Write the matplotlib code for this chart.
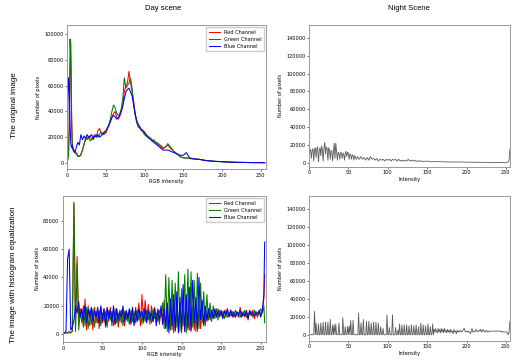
import numpy as np
import matplotlib
matplotlib.use("Agg")
import matplotlib.pyplot as plt

# day scene, original image (values in thousands of pixels)
day_x = [0, 1, 2, 3, 4, 5, 6, 7, 8, 9, 10,
         12, 14, 16, 18, 20, 22, 24, 26, 28, 30, 32, 34, 36, 38, 40, 42, 44, 46, 48, 50,
         52, 54, 56, 58, 60, 62, 64, 66, 68, 70, 72, 74, 76, 78, 80, 82, 84, 86, 88, 90,
         92, 94, 96, 98, 100, 102, 104, 106, 108, 110, 112, 114, 116, 118, 120, 122, 124, 126, 128, 130,
         134, 138, 142, 146, 150, 154, 158, 162, 166, 170, 174, 178,
         185, 190, 200, 210, 220, 230, 240, 250, 255]
day_red = [2, 3, 8, 30, 70, 93, 40, 14, 11, 10, 9,
           8, 6, 5, 7, 10, 14, 18, 20, 19, 21, 18, 20, 22, 21, 25, 27, 23, 22, 24, 23,
           26, 29, 33, 36, 38, 40, 36, 34, 36, 40, 45, 55, 60, 62, 71, 62, 55, 48, 38, 32,
           28, 27, 26, 25, 23, 22, 21, 20, 19, 17, 18, 16, 15, 14, 13, 12, 11, 12, 13, 14,
           11, 9, 7, 5, 4, 4, 3.5, 3.3, 3, 3, 2.5, 2,
           1.6, 1.3, 1, 0.7, 0.5, 0.4, 0.3, 0.3, 0.2]
day_green = [1, 2, 6, 25, 96, 80, 30, 12, 10, 9, 8,
             7, 5, 5, 6, 10, 15, 19, 18, 20, 17, 19, 18, 21, 22, 20, 22, 24, 23, 22, 24,
             27, 30, 34, 40, 45, 43, 39, 37, 38, 42, 50, 66, 58, 60, 62, 66, 58, 46, 37, 31,
             28, 27, 25, 24, 22, 21, 20, 20, 19, 18, 17, 16, 16, 15, 14, 13, 12, 12, 13, 15,
             12, 9, 7, 5, 4, 3.8, 3.5, 3.2, 3, 2.8, 2.5, 2,
             1.6, 1.3, 1, 0.7, 0.5, 0.4, 0.3, 0.3, 0.2]
day_blue = [3, 40, 66, 60, 30, 15, 12, 14, 10, 9, 8,
            12, 16, 14, 22, 18, 21, 19, 22, 20, 21, 22, 19, 21, 20, 22, 20, 21, 22, 24, 25,
            27, 29, 32, 35, 37, 36, 34, 35, 37, 40, 44, 50, 55, 57, 58, 55, 52, 45, 38, 33,
            30, 28, 26, 25, 24, 22, 20, 19, 18, 17, 16, 15, 14, 13, 12, 11, 10, 10, 10, 10,
            9, 8, 7, 6, 6, 8, 4, 3.5, 3, 2.8, 2.5, 2,
            1.6, 1.3, 1, 0.7, 0.5, 0.4, 0.3, 0.3, 0.2]

# day scene, equalized image (every 2nd bin, then 255; thousands)
eq_x = list(range(0, 256, 2)) + [255]
eq_red = [1, 1, 1, 1, 2, 1, 2, 93, 3, 55, 10, 18, 14, 5, 25, 3, 20, 6, 18, 3,
          19, 8, 17, 4, 19, 8, 18, 5, 18, 9, 19, 6, 17, 7, 18, 5, 17, 8, 18, 6,
          16, 9, 17, 7, 18, 8, 19, 10, 22, 6, 28, 8, 24, 10, 21, 7, 20, 9, 19, 10,
          18, 7, 17, 12, 24, 5, 22, 4, 20, 3, 21, 2, 20, 3, 22, 1, 19, 2, 18, 3,
          20, 2, 18, 3, 20, 2, 17, 4, 18, 6, 17, 9, 17, 10, 16, 12, 17, 13, 18, 12,
          15, 13, 17, 12, 16, 13, 17, 12, 16, 13, 15, 12, 19, 13, 16, 12, 17, 10, 16, 13,
          17, 11, 15, 12, 16, 14, 17, 25, 42]
eq_green = [1, 1, 1, 1, 1, 1, 2, 92, 2, 50, 3, 16, 8, 20, 6, 19, 4, 17, 7, 18,
            5, 16, 8, 17, 6, 15, 9, 16, 5, 17, 10, 16, 6, 18, 8, 15, 9, 17, 6, 16,
            10, 15, 7, 17, 9, 16, 8, 17, 10, 16, 7, 18, 9, 17, 10, 16, 8, 18, 11, 15,
            9, 17, 12, 22, 4, 42, 2, 40, 3, 38, 1, 36, 5, 44, 2, 32, 6, 42, 1, 46,
            3, 44, 5, 38, 2, 43, 4, 36, 8, 30, 6, 28, 10, 22, 9, 20, 11, 18, 10, 17,
            13, 16, 11, 17, 12, 15, 13, 16, 12, 17, 13, 15, 12, 16, 13, 17, 12, 15, 14, 16,
            12, 17, 13, 15, 14, 18, 15, 20, 8]
eq_blue = [1, 1, 2, 53, 60, 3, 5, 10, 20, 15, 23, 12, 18, 10, 20, 8, 18, 12, 19, 9,
           17, 12, 19, 8, 20, 10, 18, 6, 19, 11, 17, 9, 20, 7, 18, 10, 16, 12, 20, 9,
           17, 11, 18, 8, 19, 6, 17, 9, 18, 12, 16, 10, 18, 8, 17, 11, 15, 9, 18, 6,
           17, 10, 20, 7, 18, 4, 22, 1, 25, 6, 28, 3, 30, 1, 26, 4, 35, 2, 28, 5,
           33, 3, 38, 8, 26, 4, 40, 10, 24, 7, 20, 10, 18, 12, 17, 11, 18, 12, 16, 13,
           17, 11, 16, 14, 18, 12, 17, 13, 15, 12, 16, 14, 17, 12, 15, 13, 16, 11, 17, 14,
           15, 13, 16, 14, 17, 12, 16, 28, 65]

# night scene, original image (thousands)
night_x = list(range(0, 61)) + list(range(62, 146, 2)) + [150, 155, 160, 170, 180, 190, 200,
                                                          210, 220, 230, 240, 250, 253, 254, 255]
night_y = [20, 13, 15, 5, 14, 16, 2, 15, 17, 6, 16, 18, 1, 13, 17, 8, 19, 14, 2, 17,
           23, 10, 18, 16, 3, 17, 15, 4, 14, 13, 2, 12, 22, 5, 22, 13, 3, 12, 11, 4,
           11, 12, 5, 10, 11, 3, 10, 13, 7, 12, 11, 4, 10, 9, 4, 9, 8, 3, 8, 7, 4,
           7, 4, 7, 4, 6, 3, 6, 3, 7, 4, 5, 3, 5, 2, 4, 3, 4, 2, 4, 3,
           4, 2, 4, 3, 4, 2, 4, 2, 3, 2, 3, 2, 4, 2, 3, 2, 3, 1.5, 2.5, 1.5, 2.5,
           1.5, 2, 1.2, 1.5, 1.2, 1, 1, 0.8, 0.7, 0.6, 0.5, 0.5, 0.5, 1, 3, 15]

# night scene, equalized image: isolated peaks below 160, then every bin
night_eq_peak_x = [7, 9, 12, 15, 18, 21, 24, 27, 30, 32, 34, 38, 43, 46, 49, 51, 53, 56,
                   63, 66, 69, 73, 76, 79, 82, 85, 88, 91, 94, 99, 102, 106, 110, 113, 115,
                   118, 121, 124, 127, 130, 133, 136, 139, 142, 145, 148, 151, 154, 157, 159]
night_eq_peak_y = [26, 13, 12, 13, 14, 14, 14, 17, 11, 11, 12, 13, 19, 9, 9, 10, 16, 16,
                   24, 13, 17, 15, 15, 13, 14, 14, 13, 9, 7, 22, 8, 22, 8, 5, 12,
                   11, 11, 11, 10, 11, 10, 11, 9, 13, 11, 10, 12, 9, 12, 6]
night_eq_tail = [3, 7, 3, 2, 7, 3, 6, 2, 7, 3, 6, 2, 7, 3, 5, 2, 6, 3, 5, 2,
                 6, 3, 4, 1, 6, 3, 4, 1, 5, 3, 4, 3, 5, 4, 3, 4, 6, 7, 4, 3,
                 4, 3, 4, 3, 3, 1, 4, 7, 3, 4, 3, 4, 6, 4, 3, 4, 5, 4, 6, 3,
                 4, 6, 4, 3, 4, 5, 3, 4, 4, 3, 4, 4, 4, 4, 4, 4, 4, 4, 4, 4,
                 4, 4, 4, 4, 3, 4, 3, 3, 3, 3, 3, 3, 2, 0, 3, 15]

night_eq = np.zeros(256)
night_eq[night_eq_peak_x] = night_eq_peak_y
night_eq[160:] = night_eq_tail

K = 1000
tick_fs = 3.6
title_font = "Liberation Sans"
rgb_lw = 0.75


def style_axes(ax, xlabel, ylim, xlim):
    ax.set_xlim(*xlim)
    ax.set_ylim(*ylim)
    ax.set_xlabel(xlabel, fontsize=tick_fs, labelpad=1)
    ax.set_ylabel("Number of pixels", fontsize=tick_fs, labelpad=2)
    ax.tick_params(labelsize=tick_fs, length=1.5, width=0.4, pad=1)
    for s in ax.spines.values():
        s.set_color("#999999")
        s.set_linewidth(0.7)


fig = plt.figure(figsize=(5.15, 3.62), dpi=100)

ax1 = fig.add_axes([0.130, 0.533, 0.387, 0.398])
ax1.plot(day_x, np.array(day_red) * K, color="red", lw=rgb_lw, label="Red Channel")
ax1.plot(day_x, np.array(day_green) * K, color="green", lw=rgb_lw, label="Green Channel")
ax1.plot(day_x, np.array(day_blue) * K, color="blue", lw=rgb_lw, label="Blue Channel")
ax1.set_xticks([0, 50, 100, 150, 200, 250])
ax1.set_yticks([0, 20000, 40000, 60000, 80000, 100000])
style_axes(ax1, "RGB intensity", (-4700, 107000), (0, 257))
ax1.legend(fontsize=tick_fs, loc="upper right", handlelength=2.2, borderpad=0.5,
           labelspacing=0.4, framealpha=1, edgecolor="#cccccc", fancybox=False)

ax2 = fig.add_axes([0.600, 0.539, 0.390, 0.392])
ax2.plot(night_x, np.array(night_y) * K, color="#5a5a5a", lw=0.6)
ax2.set_xticks([0, 50, 100, 150, 200, 250])
ax2.set_yticks(np.arange(0, 140001, 20000))
style_axes(ax2, "Intensity", (-4500, 154500), (0, 255))

ax3 = fig.add_axes([0.122, 0.055, 0.395, 0.404])
ax3.plot(eq_x, np.array(eq_red) * K, color="red", lw=rgb_lw, label="Red Channel")
ax3.plot(eq_x, np.array(eq_green) * K, color="green", lw=rgb_lw, label="Green Channel")
ax3.plot(eq_x, np.array(eq_blue) * K, color="blue", lw=rgb_lw, label="Blue Channel")
ax3.set_xticks([0, 50, 100, 150, 200, 250])
ax3.set_yticks([0, 20000, 40000, 60000, 80000])
style_axes(ax3, "RGB intensity", (-5500, 97500), (0, 257))
ax3.legend(fontsize=tick_fs, loc="upper right", handlelength=2.2, borderpad=0.5,
           labelspacing=0.4, framealpha=1, edgecolor="#cccccc", fancybox=False)

ax4 = fig.add_axes([0.600, 0.058, 0.390, 0.401])
ax4.plot(np.arange(256), night_eq * K, color="#5a5a5a", lw=0.6)
ax4.set_xticks([0, 50, 100, 150, 200, 250])
ax4.set_yticks(np.arange(0, 140001, 20000))
style_axes(ax4, "Intensity", (-7000, 154500), (0, 255))

fig.text(163 / 515, 1 - 8 / 362, "Day scene", ha="center", va="center",
         fontsize=5.5, family=title_font)
fig.text(409 / 515, 1 - 8 / 362, "Night Scene", ha="center", va="center",
         fontsize=5.5, family=title_font)
fig.text(14 / 515, 1 - 105 / 362, "The original image", rotation=90,
         ha="center", va="center", fontsize=5.8, family=title_font)
fig.text(14 / 515, 1 - 275 / 362, "The image with histogram equalization", rotation=90,
         ha="center", va="center", fontsize=5.8, family=title_font)

fig.savefig("out.png", dpi=100)
plt.close()
